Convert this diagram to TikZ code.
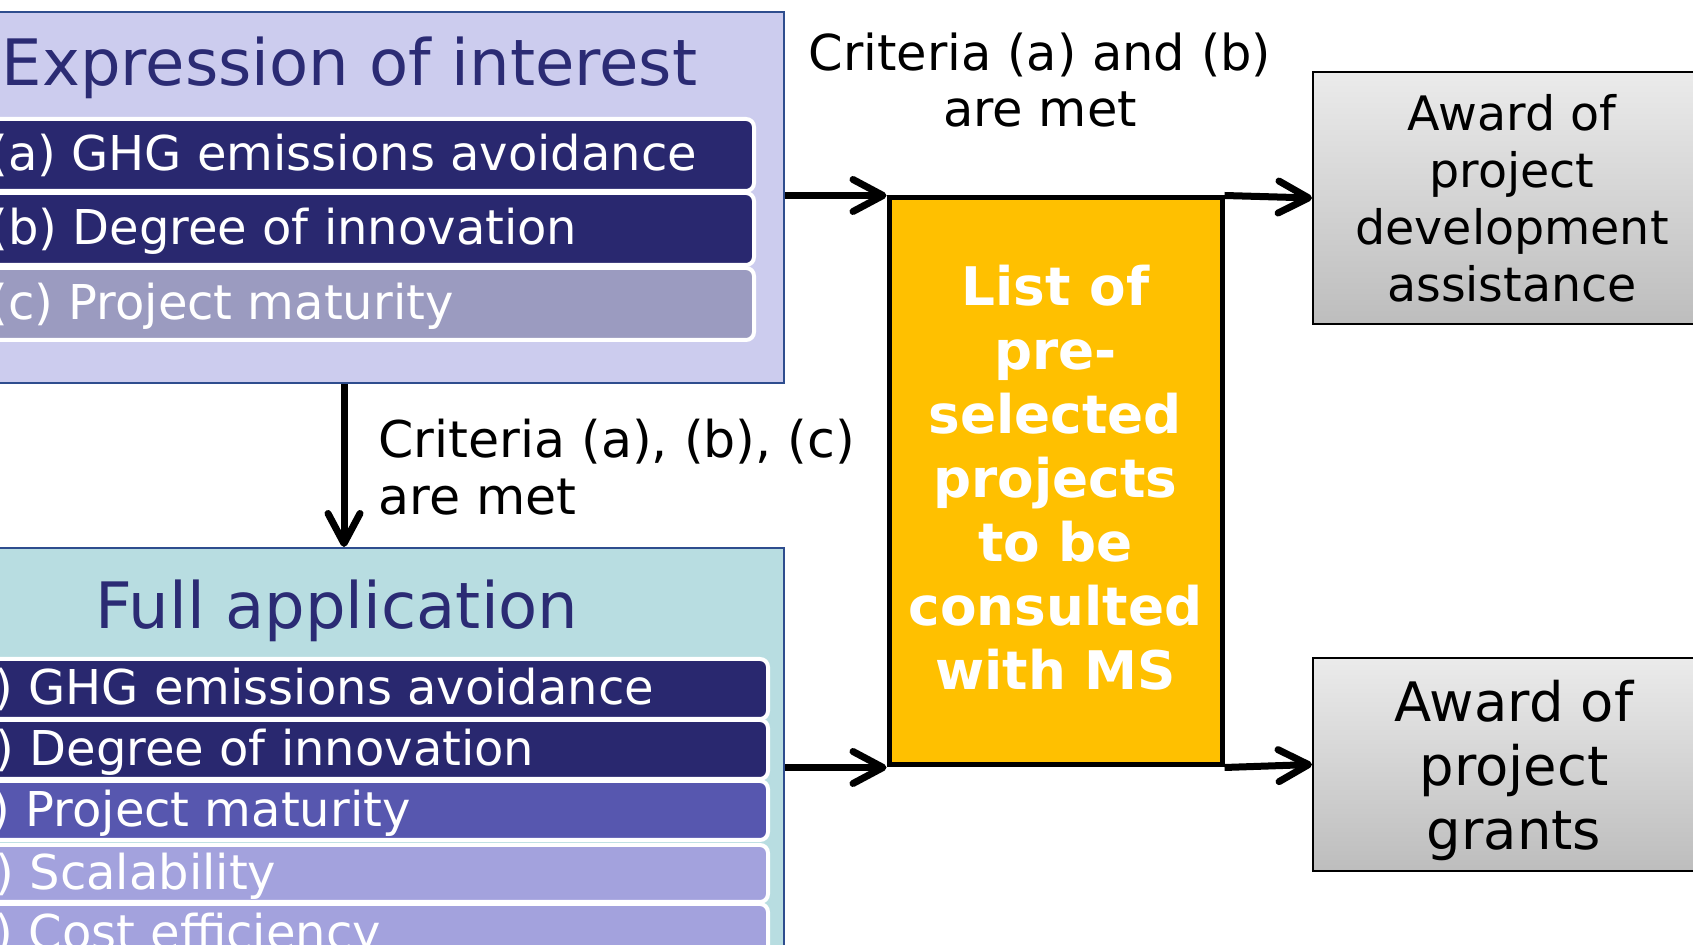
\documentclass[tikz,border=0pt]{standalone}
\usepackage{fontspec}
\setmainfont{DejaVu Sans}
\usetikzlibrary{arrows.meta,calc}

\definecolor{eoifill}{HTML}{CCCCEE}
\definecolor{fafill}{HTML}{B8DDE1}
\definecolor{frame}{HTML}{2E4D8E}
\definecolor{navy}{HTML}{2B2B74}
\definecolor{rowdark}{HTML}{29286F}
\definecolor{rowgrey}{HTML}{9B9BC0}
\definecolor{rowmid}{HTML}{5757AF}
\definecolor{rowlight}{HTML}{A3A2DD}
\definecolor{listfill}{HTML}{FFC000}
\definecolor{awtop}{HTML}{EBEBEB}
\definecolor{awbot}{HTML}{BDBDBD}

\tikzset{
  stage/.style={draw=frame, line width=1pt, inner sep=0pt},
  stagetitle/.style={inner sep=0pt, text=navy, font=\fontsize{32pt}{38pt}\selectfont},
  critrow/.style={draw=white, line width=2pt, rounded corners=4pt, inner sep=0pt,
    anchor=north west},
  rowtext/.style={anchor=west, inner sep=0pt, text=white, text height=18.2pt, text depth=2.2pt,
    font=\fontsize{24pt}{28pt}\selectfont},
  note/.style={inner sep=0pt, text=black, font=\fontsize{24.75pt}{28.25pt}\selectfont},
  listbox/.style={draw=black, line width=2.5pt, fill=listfill, inner sep=0pt,
    text=white, align=center, text depth=4pt, font=\fontsize{26.6pt}{32pt}\selectfont\bfseries},
  awardbox/.style={draw=black, line width=1pt, top color=awtop, bottom color=awbot,
    inner sep=0pt, align=center, text depth=0pt},
  flow/.style={line width=3.5pt,
    -{Straight Barb[length=15pt, width=16pt, round]}},
}

\begin{document}
\begin{tikzpicture}[x=0.5pt, y=-0.5pt]
\clip (0,0) rectangle (1693,945);

% expression of interest stage
\node[stage, fill=eoifill, minimum width=440pt, minimum height=185.5pt] (eoi) at (344,197.5) {};
\node[stagetitle, anchor=base west] (eoititle) at (1.5,86) {Expression of interest};
\node[critrow, fill=rowdark, minimum width=391pt, minimum height=36pt] (ea) at (-30,117) {};
\node[critrow, fill=rowdark, minimum width=391pt, minimum height=36pt] (eb) at (-30,191) {};
\node[critrow, fill=rowgrey, minimum width=391pt, minimum height=36pt] (ec) at (-30,266) {};
\node[rowtext] (eat) at ([xshift=9.5pt]ea.west) {(a) GHG emissions avoidance};
\node[rowtext] (ebt) at ([xshift=9.5pt]eb.west) {(b) Degree of innovation};
\node[rowtext] (ect) at ([xshift=9.5pt]ec.west) {(c) Project maturity};

% full application stage
\node[stage, fill=fafill, minimum width=440pt, minimum height=216pt] (fa) at (344,764) {};
\node[stagetitle, anchor=base] (fatitle) at (337,629) {Full application};
\node[critrow, fill=rowdark, minimum width=423pt, minimum height=30pt] (fa1) at (-80,657) {};
\node[critrow, fill=rowdark, minimum width=423pt, minimum height=29.5pt] (fa2) at (-80,718) {};
\node[critrow, fill=rowmid, minimum width=423pt, minimum height=29.5pt] (fa3) at (-80,779) {};
\node[critrow, fill=rowlight, minimum width=423pt, minimum height=28.5pt] (fa4) at (-80,843) {};
\node[critrow, fill=rowlight, minimum width=423pt, minimum height=30pt] (fa5) at (-80,902) {};
\node[rowtext] (fa1t) at ([xshift=13pt]fa1.west) {(a) GHG emissions avoidance};
\node[rowtext] (fa2t) at ([xshift=13pt]fa2.west) {(b) Degree of innovation};
\node[rowtext] (fa3t) at ([xshift=13pt]fa3.west) {(c) Project maturity};
\node[rowtext] (fa4t) at ([xshift=13pt]fa4.west) {(d) Scalability};
\node[rowtext] (fa5t) at ([xshift=13pt]fa5.west) {(e) Cost efficiency};

% pre-selection list and awards
\node[listbox, minimum width=166.5pt, minimum height=283.5pt] (list) at (1055.5,481.5)
  {List of\\pre-\\selected\\projects\\to be\\consulted\\with MS};
\node[awardbox, minimum width=199pt, minimum height=126pt,
  font=\fontsize{23.75pt}{28.6pt}\selectfont] (aw1) at (1512,198)
  {Award of\\project\\development\\assistance};
\node[awardbox, minimum width=201pt, minimum height=106.5pt,
  font=\fontsize{27.2pt}{32pt}\selectfont] (aw2) at (1514,764.5)
  {Award of\\project\\grants};

% conditions
\node[note, anchor=west, align=left, font=\fontsize{25.3pt}{28.5pt}\selectfont] (critabc)
  at (378,467) {Criteria (a), (b), (c)\\are met};
\node[note, align=center] (critab) at (1040,80) {Criteria (a) and (b)\\are met};

% flow
\draw[flow] (eoi.south) -- (fa.north);
\draw[flow] (eoi.east |- list.north west) -- (list.north west);
\draw[flow] (fa.east |- list.south west) -- (list.south west);
\draw[flow] (list.north east) -- (aw1.west);
\draw[flow] (list.south east) -- (aw2.west);
\end{tikzpicture}
\end{document}
